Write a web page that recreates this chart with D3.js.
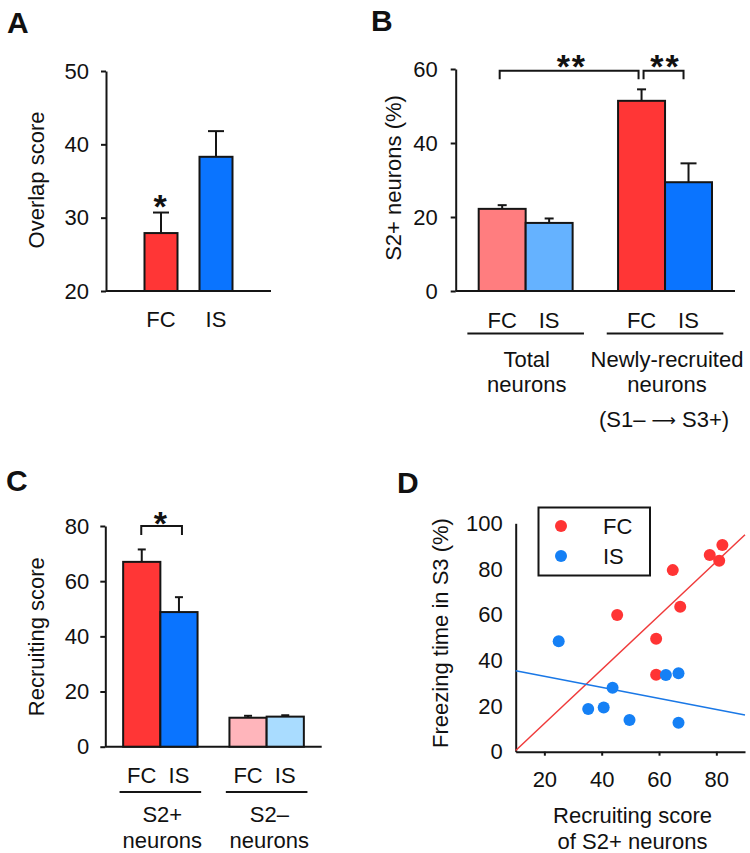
<!DOCTYPE html>
<html>
<head>
<meta charset="utf-8">
<script src="https://cdn.jsdelivr.net/npm/d3@7/dist/d3.min.js"></script>
<style>
  html, body { margin: 0; padding: 0; background: #fff; }
  svg { display: block; font-family: "Liberation Sans", Arial, Helvetica, sans-serif; }
  text { fill: #111; }
</style>
</head>
<body>
<svg id="chart" width="750" height="853"></svg>
<script>
// ---------------- DATA ----------------
// Panel A
const aCats = ["FC", "IS"];
const aMeans = [27.9, 38.3];
const aErrTop = [30.7, 41.8];
const aTicks = [20, 30, 40, 50];

// Panel B
const bGroups = ["Total", "Newly"];
const bConds = ["FC", "IS"];
const bMeans = [[22.2, 18.4], [51.4, 29.4]];
const bErrTop = [[23.2, 19.6], [54.5, 34.5]];
const bTicks = [0, 20, 40, 60];

// Panel C
const cGroups = ["S2+", "S2-"];
const cConds = ["FC", "IS"];
const cMeans = [[67.0, 48.8], [10.5, 10.9]];
const cErrTop = [[71.5, 54.2], [11.2, 11.4]];
const cTicks = [0, 20, 40, 60, 80];

// Panel D
const dFCx = [82.1, 77.7, 81.0, 64.8, 67.4, 45.4, 59.0, 59.0];
const dFCy = [90.5, 86.1, 83.6, 79.5, 63.5, 59.8, 49.5, 33.7];
const dISx = [25.0, 62.4, 66.8, 43.8, 35.3, 40.7, 49.7, 66.8];
const dISy = [48.4, 33.6, 34.3, 28.0, 18.7, 19.4, 13.9, 12.7];
const dFitFC = [[10, 0.5], [90, 95.0]];
const dFitIS = [[10, 35.4], [90, 16.1]];
const dXTicks = [20, 40, 60, 80];
const dYTicks = [0, 20, 40, 60, 80, 100];

// ---------------- STYLE ----------------
const RED = "#ff3636", BLUE = "#0a74ff";
const B_LIGHT = ["#ff7d7f", "#65b2ff"], B_DARK = [RED, BLUE];
const C_DARK = [RED, BLUE], C_LIGHT = ["#ffb5bb", "#a9dcff"];
const INK = "#151515";
const FS = 22;

const svg = d3.select("#chart");
svg.append("rect").attr("width", 750).attr("height", 853).attr("fill", "#fff");

function panelLetter(t, x, y) {
  svg.append("text").attr("x", x).attr("y", y).attr("font-size", 30)
    .attr("font-weight", "bold").text(t);
}
function yAxis(g, scale, ticks, x, tickSize, pad) {
  const ax = d3.axisLeft(scale).tickValues(ticks).tickSize(tickSize)
    .tickSizeOuter(0).tickPadding(pad);
  const a = g.append("g").attr("transform", `translate(${x},0)`).call(ax);
  a.selectAll("path,line").attr("stroke", INK).attr("stroke-width", 2);
  a.selectAll("text").attr("font-size", FS).attr("font-family", "Liberation Sans, Arial, sans-serif").attr("fill", "#111");
  return a;
}
function hLine(x1, x2, y, w) {
  svg.append("line").attr("x1", x1).attr("x2", x2).attr("y1", y).attr("y2", y)
    .attr("stroke", INK).attr("stroke-width", w || 2);
}
function label(t, x, y, anchor, size, rot) {
  const el = svg.append("text").attr("font-size", size || FS)
    .attr("text-anchor", anchor || "middle");
  if (rot) el.attr("transform", `translate(${x},${y}) rotate(-90)`);
  else el.attr("x", x).attr("y", y);
  el.text(t);
  return el;
}
function bar(x, w, y0, y1, fill) {
  svg.append("rect").attr("x", x).attr("width", w).attr("y", y1)
    .attr("height", y0 - y1).attr("fill", fill)
    .attr("stroke", INK).attr("stroke-width", 2);
}
function errBar(cx, yTop, yMean, cap) {
  svg.append("line").attr("x1", cx).attr("x2", cx).attr("y1", yMean).attr("y2", yTop)
    .attr("stroke", INK).attr("stroke-width", 2);
  svg.append("line").attr("x1", cx - cap / 2).attr("x2", cx + cap / 2)
    .attr("y1", yTop).attr("y2", yTop).attr("stroke", INK).attr("stroke-width", 2);
}
function star(t, cx, cyCenter) {
  svg.append("text").attr("x", cx).attr("y", cyCenter + 0.575 * 34)
    .attr("font-size", 34).attr("font-weight", "bold").attr("text-anchor", "middle")
    .attr("letter-spacing", 2).text(t);
}
function bracket(x1, x2, yTop, yLeg) {
  svg.append("path").attr("d", `M${x1},${yLeg}V${yTop}H${x2}V${yLeg}`)
    .attr("fill", "none").attr("stroke", INK).attr("stroke-width", 2);
}

// ================= PANEL A =================
panelLetter("A", 7, 33);
const gA = svg.append("g");
const yA = d3.scaleLinear().domain([20, 50]).range([291, 71]);
const xA = d3.scaleBand().domain(aCats).range([133.5, 243.5]).paddingInner(0.4).paddingOuter(0.2);
yAxis(gA, yA, aTicks, 106, 5, 12);
hLine(106, 271, yA(20));
const aColors = [RED, BLUE];
aCats.forEach((c, i) => {
  bar(xA(c), xA.bandwidth(), yA(20), yA(aMeans[i]), aColors[i]);
  errBar(xA(c) + xA.bandwidth() / 2, yA(aErrTop[i]), yA(aMeans[i]), 16);
  label(c, xA(c) + xA.bandwidth() / 2, 327);
});
star("*", xA("FC") + xA.bandwidth() / 2, yA(aErrTop[0]) - 14);
label("Overlap score", 44, 180, "middle", FS, true);

// ================= PANEL B =================
panelLetter("B", 371, 31);
const gB = svg.append("g");
const yB = d3.scaleLinear().domain([0, 60]).range([291, 69]);
const xB = d3.scaleBand().domain(bGroups).range([455.7, 735]).paddingInner(0.326).paddingOuter(0.165);
const xBi = d3.scaleBand().domain(bConds).range([0, xB.bandwidth()]).padding(0);
yAxis(gB, yB, bTicks, 455.7, 5, 13);
hLine(455.7, 735, yB(0));
bGroups.forEach((g, gi) => {
  bConds.forEach((c, ci) => {
    const x = xB(g) + xBi(c);
    const fill = gi === 0 ? B_LIGHT[ci] : B_DARK[ci];
    bar(x, xBi.bandwidth(), yB(0), yB(bMeans[gi][ci]), fill);
    errBar(x + xBi.bandwidth() / 2, yB(bErrTop[gi][ci]), yB(bMeans[gi][ci]), gi === 1 && ci === 1 ? 16 : 9);
    label(c, x + xBi.bandwidth() / 2, 328);
  });
  const gc = xB(g) + xB.bandwidth() / 2;
  hLine(gc - 58.3, gc + 58.3, 333.5, 2);
});
{
  const cFCt = xB("Total") + xBi("FC") + xBi.bandwidth() / 2;
  const cFCn = xB("Newly") + xBi("FC") + xBi.bandwidth() / 2;
  const cISn = xB("Newly") + xBi("IS") + xBi.bandwidth() / 2;
  bracket(cFCt - 2.5, cFCn - 3, yB(59.5), yB(57.2));
  bracket(cFCn + 2, cISn - 5, yB(59.5), yB(57.2));
  star("**", (cFCt + cFCn) / 2, yB(59.5) - 12);
  star("**", (cFCn + cISn) / 2 + 0.5, yB(59.5) - 12);
}
label("Total", 526.7, 366.7);
label("neurons", 526.7, 391.7);
label("Newly-recruited", 667, 366.7);
label("neurons", 667, 391.7);
{
  const t = svg.append("text").attr("x", 664).attr("y", 427).attr("font-size", FS)
    .attr("text-anchor", "middle");
  t.append("tspan").text("(S1\u2013 ");
  t.append("tspan").attr("font-family", "DejaVu Sans").attr("font-size", 17).attr("dy", -1).text("\u27F6");
  t.append("tspan").attr("dy", 1).text(" S3+)");
}
label("S2+ neurons (%)", 401, 178, "middle", FS, true);

// ================= PANEL C =================
panelLetter("C", 6, 491);
const gC = svg.append("g");
const yC = d3.scaleLinear().domain([0, 80]).range([746.7, 526]);
const xC = d3.scaleBand().domain(cGroups).range([105.3, 321.7]).paddingInner(0.30).paddingOuter(0.168);
const xCi = d3.scaleBand().domain(cConds).range([0, xC.bandwidth()]).padding(0);
yAxis(gC, yC, cTicks, 105.3, 5, 11);
hLine(105.3, 321.7, yC(0));
cGroups.forEach((g, gi) => {
  cConds.forEach((c, ci) => {
    const x = xC(g) + xCi(c);
    const fill = gi === 0 ? C_DARK[ci] : C_LIGHT[ci];
    bar(x, xCi.bandwidth(), yC(0), yC(cMeans[gi][ci]), fill);
    errBar(x + xCi.bandwidth() / 2, yC(cErrTop[gi][ci]), yC(cMeans[gi][ci]), 8);
    label(c, x + xCi.bandwidth() / 2, 783);
  });
  const gc = xC(g) + xC.bandwidth() / 2;
  hLine(gc - 40.8, gc + 40.8, 792, 2);
});
{
  const c1 = xC("S2+") + xCi("FC") + xCi.bandwidth() / 2;
  const c2 = xC("S2+") + xCi("IS") + xCi.bandwidth() / 2;
  bracket(c1 - 0.5, c2 + 3, yC(80), yC(76.7));
  star("*", (c1 + c2) / 2 + 1, yC(80) - 11);
}
label("S2+", 162.3, 821.7);
label("neurons", 162.3, 848.3);
label("S2\u2013", 269.3, 821.7);
label("neurons", 269.3, 848.3);
label("Recruiting score", 44, 636.7, "middle", FS, true);

// ================= PANEL D =================
panelLetter("D", 397, 493);
const gD = svg.append("g");
const xD = d3.scaleLinear().domain([10, 90]).range([515.7, 745]);
const yD = d3.scaleLinear().domain([0, 100]).range([751.7, 523.3]);
yAxis(gD, yD, dYTicks, 515.7, 0, 13);
const axD = gD.append("g").attr("transform", `translate(0,${yD(0)})`)
  .call(d3.axisBottom(xD).tickValues(dXTicks).tickSize(4).tickSizeOuter(0).tickPadding(16));
axD.selectAll("path,line").attr("stroke", INK).attr("stroke-width", 2);
axD.selectAll("text").attr("font-size", FS).attr("font-family", "Liberation Sans, Arial, sans-serif").attr("fill", "#111");

const line = d3.line().x(d => xD(d[0])).y(d => yD(d[1]));
gD.append("path").attr("d", line(dFitFC)).attr("stroke", "#f03a3a").attr("stroke-width", 1.5).attr("fill", "none");
gD.append("path").attr("d", line(dFitIS)).attr("stroke", "#1a78e6").attr("stroke-width", 1.5).attr("fill", "none");

const DOT_R = "#ff3434", DOT_B = "#1580f5";
gD.selectAll("circle.fc").data(d3.range(dFCx.length)).join("circle")
  .attr("class", "fc").attr("cx", i => xD(dFCx[i])).attr("cy", i => yD(dFCy[i]))
  .attr("r", 6).attr("fill", DOT_R);
gD.selectAll("circle.is").data(d3.range(dISx.length)).join("circle")
  .attr("class", "is").attr("cx", i => xD(dISx[i])).attr("cy", i => yD(dISy[i]))
  .attr("r", 6).attr("fill", DOT_B);

// legend
svg.append("rect").attr("x", 538.5).attr("y", 507.5).attr("width", 111.5).attr("height", 68)
  .attr("fill", "#fff").attr("stroke", INK).attr("stroke-width", 2);
svg.append("circle").attr("cx", 561).attr("cy", 526).attr("r", 6).attr("fill", DOT_R);
svg.append("circle").attr("cx", 561).attr("cy", 556).attr("r", 6).attr("fill", DOT_B);
label("FC", 603, 534, "start");
label("IS", 603, 564, "start");

label("Freezing time in S3 (%)", 448, 633, "middle", FS, true);
label("Recruiting score", 632.5, 823);
label("of S2+ neurons", 632.5, 849);
</script>
</body>
</html>
